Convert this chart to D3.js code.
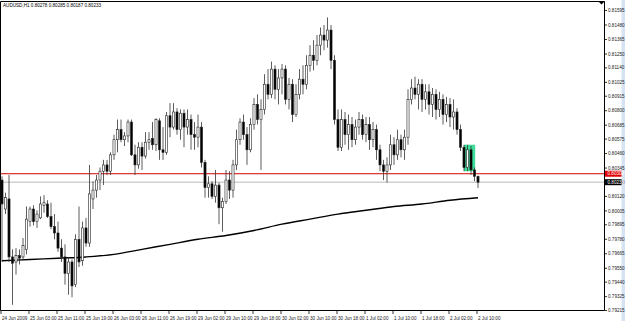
<!DOCTYPE html>
<html lang="en">
<head>
<meta charset="UTF-8">
<title>AUDUSD,H1</title>
<script src="https://d3js.org/d3.v7.min.js"></script>
<style>
  body { margin: 0; background: #fff; }
  text { font-family: "Liberation Sans", Arial, sans-serif; }
</style>
</head>
<body>
<script>
// hourly bars, oldest first (24 Jun 2009 19:00 .. 2 Jul 2009 10:00)
const opens = [
  0.8025,0.8002,0.8010,0.7964,0.7960,0.7965,0.7964,0.7970,0.7992,0.8002,
  0.7992,0.7995,0.8005,0.8006,0.7996,0.7988,0.7983,0.7971,0.7964,0.7951,
  0.7960,0.7942,0.7978,0.7961,0.7987,0.7975,0.8010,0.8017,0.8025,0.8032,
  0.8037,0.8032,0.8045,0.8057,0.8065,0.8057,0.8060,0.8071,0.8045,0.8037,
  0.8051,0.8044,0.8055,0.8058,0.8053,0.8072,0.8049,0.8047,0.8076,0.8067,
  0.8079,0.8065,0.8078,0.8067,0.8073,0.8061,0.8059,0.8067,0.8039,0.8019,
  0.8022,0.8012,0.8021,0.8003,0.8008,0.8025,0.8017,0.8037,0.8057,0.8071,
  0.8061,0.8049,0.8069,0.8085,0.8073,0.8081,0.8101,0.8093,0.8113,0.8097,
  0.8106,0.8113,0.8089,0.8101,0.8077,0.8093,0.8105,0.8101,0.8116,0.8124,
  0.8120,0.8132,0.8140,0.8136,0.8144,0.8120,0.8073,0.8051,0.8073,0.8061,
  0.8069,0.8057,0.8067,0.8073,0.8061,0.8069,0.8057,0.8065,0.8049,0.8037,
  0.8032,0.8037,0.8053,0.8045,0.8057,0.8049,0.8059,0.8089,0.8098,0.8093,
  0.8101,0.8089,0.8095,0.8085,0.8093,0.8081,0.8089,0.8077,0.8085,0.8075,
  0.8079,0.8065,0.8051,0.8035,0.8049,0.8033,0.80278
];
const highs = [
  0.8028,0.8015,0.8029,0.7970,0.7971,0.7970,0.7979,0.8004,0.8004,0.8005,
  0.8001,0.8012,0.8013,0.8009,0.8007,0.7998,0.7992,0.7978,0.7974,0.7964,
  0.7962,0.7982,0.8004,0.7992,0.7995,0.8037,0.8024,0.8029,0.8035,0.8041,
  0.8041,0.8047,0.8061,0.8073,0.8073,0.8063,0.8073,0.8073,0.8053,0.8055,
  0.8055,0.8063,0.8063,0.8071,0.8074,0.8074,0.8067,0.8079,0.8086,0.8086,
  0.8082,0.8081,0.8081,0.8081,0.8077,0.8071,0.8077,0.8071,0.8041,0.8028,
  0.8024,0.8033,0.8023,0.8011,0.8033,0.8032,0.8041,0.8065,0.8074,0.8077,
  0.8067,0.8074,0.8090,0.8093,0.8089,0.8109,0.8113,0.8119,0.8116,0.8113,
  0.8117,0.8116,0.8106,0.8105,0.8101,0.8113,0.8116,0.8124,0.8132,0.8136,
  0.8140,0.8146,0.8148,0.8154,0.8148,0.8124,0.8081,0.8081,0.8079,0.8077,
  0.8075,0.8073,0.8079,0.8077,0.8075,0.8075,0.8071,0.8069,0.8053,0.8041,
  0.8043,0.8061,0.8059,0.8065,0.8061,0.8065,0.8097,0.8105,0.8107,0.8105,
  0.8105,0.8101,0.8101,0.8098,0.8097,0.8095,0.8093,0.8091,0.8090,0.8089,
  0.8082,0.8069,0.8053,0.8053,0.8052,0.8035,0.80285
];
const lows = [
  0.7960,0.7998,0.7960,0.7926,0.7950,0.7958,0.7962,0.7966,0.7988,0.7989,
  0.7987,0.7994,0.7999,0.7995,0.7986,0.7978,0.7968,0.7960,0.7942,0.7934,
  0.7932,0.7940,0.7956,0.7957,0.7972,0.7972,0.8002,0.8011,0.8017,0.8021,
  0.8029,0.8029,0.8041,0.8047,0.8055,0.8052,0.8055,0.8044,0.8029,0.8034,
  0.8033,0.8042,0.8049,0.8049,0.8048,0.8041,0.8041,0.8045,0.8059,0.8065,
  0.8061,0.8057,0.8051,0.8061,0.8049,0.8049,0.8051,0.8035,0.8011,0.8011,
  0.8010,0.8007,0.7990,0.7984,0.8006,0.8010,0.8011,0.8033,0.8053,0.8057,
  0.8037,0.8047,0.8065,0.8069,0.8033,0.8077,0.8089,0.8090,0.8089,0.8085,
  0.8093,0.8085,0.8081,0.8071,0.8075,0.8089,0.8093,0.8097,0.8111,0.8112,
  0.8116,0.8124,0.8128,0.8130,0.8113,0.8069,0.8048,0.8048,0.8053,0.8049,
  0.8051,0.8053,0.8061,0.8057,0.8055,0.8049,0.8051,0.8041,0.8032,0.8025,
  0.8023,0.8033,0.8037,0.8041,0.8043,0.8041,0.8053,0.8085,0.8089,0.8081,
  0.8079,0.8081,0.8077,0.8075,0.8073,0.8075,0.8069,0.8071,0.8067,0.8065,
  0.8061,0.8048,0.8032,0.8032,0.8029,0.8024,0.80187
];
const closes = [
  0.8006,0.8011,0.7964,0.7959,0.7965,0.7963,0.7973,0.7994,0.8002,0.7992,
  0.7998,0.8006,0.8007,0.7996,0.7988,0.7983,0.7971,0.7964,0.7951,0.7960,
  0.7941,0.7978,0.7960,0.7987,0.7975,0.8014,0.8017,0.8025,0.8032,0.8037,
  0.8032,0.8045,0.8057,0.8065,0.8057,0.8060,0.8071,0.8045,0.8037,0.8051,
  0.8044,0.8055,0.8057,0.8053,0.8073,0.8049,0.8047,0.8076,0.8067,0.8079,
  0.8065,0.8078,0.8067,0.8073,0.8061,0.8059,0.8067,0.8039,0.8019,0.8022,
  0.8012,0.8021,0.8003,0.8008,0.8025,0.8017,0.8037,0.8057,0.8071,0.8061,
  0.8049,0.8069,0.8085,0.8073,0.8081,0.8101,0.8093,0.8113,0.8097,0.8106,
  0.8113,0.8089,0.8101,0.8077,0.8093,0.8105,0.8101,0.8116,0.8124,0.8120,
  0.8132,0.8140,0.8136,0.8144,0.8120,0.8073,0.8051,0.8073,0.8061,0.8069,
  0.8057,0.8067,0.8073,0.8061,0.8069,0.8057,0.8065,0.8049,0.8037,0.8032,
  0.8037,0.8053,0.8045,0.8057,0.8049,0.8059,0.8089,0.8098,0.8093,0.8101,
  0.8089,0.8095,0.8085,0.8093,0.8081,0.8089,0.8077,0.8085,0.8075,0.8079,
  0.8065,0.8051,0.8035,0.8049,0.8033,0.8028,0.80233
];

// moving average, read every 8th bar
const maBars = [0, 8, 16, 24, 32, 40, 48, 56, 64, 72, 80, 88, 96, 104, 112, 120, 128, 136];
const maValues = [0.7961,0.7962,0.7963,0.7964,0.7966,0.7970,0.7974,0.7978,0.7981,
                  0.7985,0.7990,0.7994,0.7998,0.8001,0.8004,0.8006,0.8009,0.8011];

const timeLabels = ["24 Jun 2009","25 Jun 03:00","25 Jun 11:00","25 Jun 19:00","26 Jun 03:00",
  "26 Jun 11:00","26 Jun 19:00","29 Jun 02:00","29 Jun 10:00","29 Jun 18:00","30 Jun 02:00",
  "30 Jun 10:00","30 Jun 18:00","1 Jul 02:00","1 Jul 10:00","1 Jul 18:00","2 Jul 02:00","2 Jul 10:00"];
const priceTicks = [0.81595,0.81480,0.81365,0.81250,0.81140,0.81025,0.80915,0.80800,0.80685,
  0.80575,0.80460,0.80345,0.80230,0.80120,0.80005,0.79895,0.79780,0.79665,0.79550,0.79440,
  0.79325,0.79215];

const symbolTitle = "AUDUSD,H1";
const levelLine = 0.80300;
const bidPrice = 0.80233;
const box = {from: 132, to: 135.2, top: 0.8053, bottom: 0.8032};

const W = 625, H = 321;
const svg = d3.select("body").append("svg")
    .attr("width", W)
    .attr("height", H)

const x = d3.scaleLinear().domain([0, 136]).range([2, 478])
const y = d3.scaleLinear().domain([0.79215, 0.81595]).range([310.5, 10.5])
const n = closes.length

// frame
svg.append("rect").attr("x", 0).attr("y", 0).attr("width", W).attr("height", H).attr("fill", "#fff")
svg.append("rect").attr("x", 621.5).attr("y", 0).attr("width", 3.5).attr("height", H).attr("fill", "#d6e3f3")
svg.append("path")
    .attr("d", "M0.5,310.5 V1.5 H604.5 V310.5 Z")
    .attr("fill", "none").attr("stroke", "#000").attr("stroke-width", 1)

// rectangle object
svg.append("rect")
    .attr("x", x(box.from)).attr("y", y(box.top))
    .attr("width", x(box.to) - x(box.from)).attr("height", y(box.bottom) - y(box.top))
    .attr("fill", "#3ddf9a")

// horizontal level + bid line
svg.append("line").attr("x1", 1).attr("x2", 604).attr("y1", y(levelLine)).attr("y2", y(levelLine))
    .attr("stroke", "#d40000").attr("stroke-width", 1)
svg.append("line").attr("x1", 1).attr("x2", 604).attr("y1", y(bidPrice)).attr("y2", y(bidPrice))
    .attr("stroke", "#a8a8a8").attr("stroke-width", 0.8)

// moving average
const maLine = d3.line().x((d, i) => x(maBars[i])).y(d => y(d)).curve(d3.curveMonotoneX)
svg.append("path").datum(maValues).attr("d", maLine)
    .attr("fill", "none").attr("stroke", "#000").attr("stroke-width", 1.4)

// candles
const bars = d3.range(n)
const g = svg.append("g")
g.selectAll("line.wick").data(bars).enter().append("line")
    .attr("class", "wick")
    .attr("x1", i => x(i)).attr("x2", i => x(i))
    .attr("y1", i => y(highs[i])).attr("y2", i => y(lows[i]))
    .attr("stroke", "#333").attr("stroke-width", 0.8)
const bw = 2.1
g.selectAll("rect.body").data(bars).enter().append("rect")
    .attr("class", "body")
    .attr("x", i => x(i) - bw / 2)
    .attr("y", i => y(Math.max(opens[i], closes[i])))
    .attr("width", bw)
    .attr("height", i => Math.max(0.8, Math.abs(y(opens[i]) - y(closes[i]))))
    .attr("fill", i => closes[i] >= opens[i] ? "#fff" : "#000")
    .attr("stroke", "#222").attr("stroke-width", 0.6)

// title
svg.append("text").attr("x", 3).attr("y", 6.6)
    .style("font-size", "4.6px").attr("fill", "#000")
    .text(symbolTitle + "  " + [opens[n - 1], highs[n - 1], lows[n - 1], closes[n - 1]].map(v => v.toFixed(5)).join(" "))

// chart shift marker
svg.append("path").attr("d", "M598.5,1.5 L604.5,1.5 L601.5,4.5 Z").attr("fill", "#000")

// price axis
const pAxis = svg.append("g")
pAxis.selectAll("line").data(priceTicks).enter().append("line")
    .attr("x1", 604.5).attr("x2", 607).attr("y1", d => y(d)).attr("y2", d => y(d))
    .attr("stroke", "#000").attr("stroke-width", 0.8)
pAxis.selectAll("text").data(priceTicks).enter().append("text")
    .attr("x", 608).attr("y", d => y(d) + 1.6)
    .style("font-size", "4.6px").attr("fill", "#222")
    .text(d => d.toFixed(5))

function priceTag(v, color) {
    svg.append("rect").attr("x", 605).attr("y", y(v) - 3).attr("width", 16.5).attr("height", 6)
        .attr("fill", color)
    svg.append("text").attr("x", 607.5).attr("y", y(v) + 1.6)
        .style("font-size", "4.6px").attr("fill", "#fff")
        .text(v.toFixed(5))
}
priceTag(levelLine, "#e00000")
priceTag(bidPrice, "#000")

// time axis
const tAxis = svg.append("g")
tAxis.selectAll("line").data(timeLabels).enter().append("line")
    .attr("x1", (d, k) => x(k * 8) - 1).attr("x2", (d, k) => x(k * 8) - 1)
    .attr("y1", 310.5).attr("y2", 314)
    .attr("stroke", "#000").attr("stroke-width", 0.8)
tAxis.selectAll("text").data(timeLabels).enter().append("text")
    .attr("x", (d, k) => x(k * 8)).attr("y", 319.5)
    .style("font-size", "4.6px").attr("fill", "#222")
    .text(d => d)
</script>
</body>
</html>
